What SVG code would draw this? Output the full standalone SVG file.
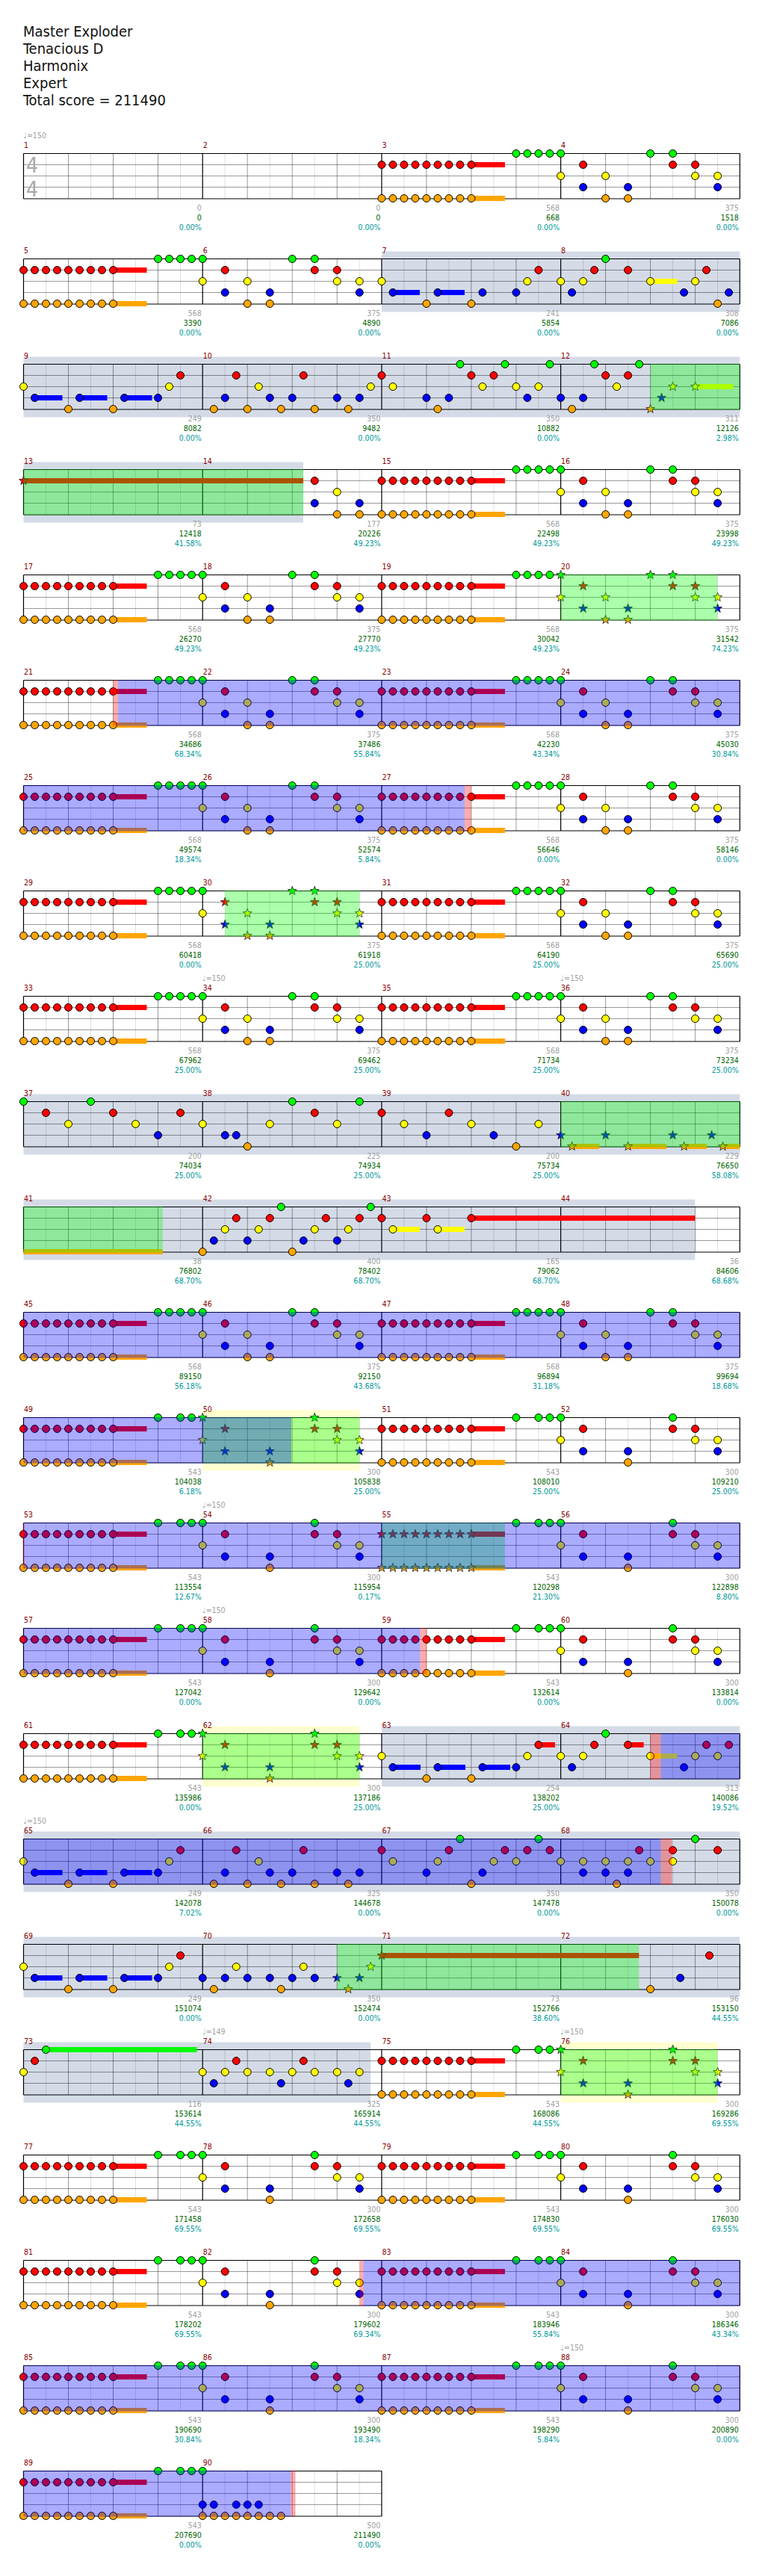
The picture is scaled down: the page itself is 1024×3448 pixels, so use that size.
<svg xmlns="http://www.w3.org/2000/svg" xmlns:xlink="http://www.w3.org/1999/xlink" width="1024" height="3448" viewBox="0 0 1024 3448">
<style>
text{font-family:'DejaVu Sans Condensed','DejaVu Sans',sans-serif;font-stretch:condensed}
.ti{font-size:20px;fill:#111}
.mn{font-size:10.5px;fill:#8b0000}
.tp{font-size:10.5px;fill:#a0a0a0}
.ts{font-size:28px;fill:#aaa}
.l1,.l2,.l3{font-size:10.5px;text-anchor:end}
.l1{fill:#a0a0a0}.l2{fill:#006400}.l3{fill:#009999}
.bg{fill:#d4dbe7}.py{fill:#ffffd0}
.ovg{fill:#00ff00;fill-opacity:.33}
.ovb{fill:#0000ff;fill-opacity:.33}
.ovp{fill:#ff0000;fill-opacity:.33}
</style>
<defs>
<circle id="g" r="5" fill="#00ff00" stroke="#000"/>
<circle id="r" cy="15" r="5" fill="#ff0000" stroke="#000"/>
<circle id="y" cy="30" r="5" fill="#ffff00" stroke="#000"/>
<circle id="b" cy="45" r="5" fill="#0000ff" stroke="#000"/>
<circle id="o" cy="60" r="5" fill="#ffa500" stroke="#000"/>
<polygon id="st" points="0,-6.3 1.53,-2.1 5.99,-1.95 2.47,0.8 3.7,5.1 0,2.6 -3.7,5.1 -2.47,0.8 -5.99,-1.95 -1.53,-2.1" stroke="#222" stroke-width=".8"/>
<use id="sg" href="#st" fill="#00ff00"/>
<use id="sr" href="#st" y="15" fill="#ff0000"/>
<use id="sy" href="#st" y="30" fill="#ffff00"/>
<use id="sb" href="#st" y="45" fill="#0000ff"/>
<use id="so" href="#st" y="60" fill="#ffa500"/>
<g id="grid"><path d="M30 0V60.5M90 0V60.5M150 0V60.5M210 0V60.5" stroke="#000" stroke-opacity=".13"/><path d="M60 0V60.5M120 0V60.5M180 0V60.5M0 15H239.7M0 30H239.7M0 45H239.7" stroke="#000" stroke-opacity=".4"/></g>
<g id="staff"><use href="#grid" x="31.5"/><use href="#grid" x="271.2"/><use href="#grid" x="510.9"/><use href="#grid" x="750.6"/><path d="M31.5 0V60.5M271.2 0V60.5M510.9 0V60.5M750.6 0V60.5M990.3 0V60.5M31.5 0H990.3M31.5 60.5H990.3" stroke="#000" stroke-width="1.2" fill="none"/></g>
<g id="staff2"><use href="#grid" x="31.5"/><use href="#grid" x="271.2"/><path d="M31.5 0V60.5M271.2 0V60.5M510.9 0V60.5M31.5 0H510.9M31.5 60.5H510.9" stroke="#000" stroke-width="1.2" fill="none"/></g>
<g id="ro"><use href="#r"/><use href="#o"/></g>
<g id="sro"><use href="#sr"/><use href="#so"/></g>
<g id="A0"><rect x="120" y="11.5" width="45" height="7" fill="#ff0000"/><rect x="120" y="56.5" width="45" height="7" fill="#ffa500"/><use href="#ro"/><use href="#ro" x="15"/><use href="#ro" x="30"/><use href="#ro" x="45"/><use href="#ro" x="60"/><use href="#ro" x="75"/><use href="#ro" x="90"/><use href="#ro" x="105"/><use href="#ro" x="120"/></g>
<g id="A1"><use href="#A0"/><use href="#g" x="180"/><use href="#g" x="195"/><use href="#g" x="210"/><use href="#g" x="225"/></g>
<g id="A2"><use href="#A0"/><use href="#g" x="180"/><use href="#g" x="210"/><use href="#g" x="225"/></g>
<g id="B"><use href="#g"/><use href="#y"/><use href="#r" x="30"/><use href="#b" x="30"/><use href="#y" x="60"/><use href="#o" x="60"/><use href="#b" x="90"/><use href="#o" x="90"/><use href="#g" x="120"/><use href="#g" x="150"/><use href="#r" x="150"/><use href="#r" x="180"/><use href="#y" x="180"/><use href="#y" x="210"/><use href="#b" x="210"/></g>
<g id="B2"><use href="#g"/><use href="#y"/><use href="#r" x="30"/><use href="#b" x="30"/><use href="#b" x="90"/><use href="#o" x="90"/><use href="#g" x="150"/><use href="#r" x="150"/><use href="#r" x="180"/><use href="#y" x="180"/><use href="#y" x="210"/><use href="#b" x="210"/></g>
<g id="SB"><use href="#sg"/><use href="#sy"/><use href="#sr" x="30"/><use href="#sb" x="30"/><use href="#sy" x="60"/><use href="#so" x="60"/><use href="#sb" x="90"/><use href="#so" x="90"/><use href="#sg" x="120"/><use href="#sg" x="150"/><use href="#sr" x="150"/><use href="#sr" x="180"/><use href="#sy" x="180"/><use href="#sy" x="210"/><use href="#sb" x="210"/></g>
<g id="SB2"><use href="#sg"/><use href="#sy"/><use href="#sr" x="30"/><use href="#sb" x="30"/><use href="#sb" x="90"/><use href="#so" x="90"/><use href="#sg" x="150"/><use href="#sr" x="150"/><use href="#sr" x="180"/><use href="#sy" x="180"/><use href="#sy" x="210"/><use href="#sb" x="210"/></g>
<g id="C"><rect x="15" y="41.5" width="37" height="7" fill="#0000ff"/><rect x="75" y="41.5" width="37" height="7" fill="#0000ff"/><rect x="135" y="41.5" width="37" height="7" fill="#0000ff"/><use href="#y"/><use href="#b" x="15"/><use href="#o" x="60"/><use href="#b" x="75"/><use href="#o" x="120"/><use href="#b" x="135"/><use href="#b" x="180"/><use href="#y" x="195"/><use href="#r" x="210"/></g>
</defs>
<rect width="1024" height="3448" fill="#fff"/>
<g id="title">
<text class="ti" x="31" y="49">Master Exploder</text>
<text class="ti" x="31" y="72">Tenacious D</text>
<text class="ti" x="31" y="95">Harmonix</text>
<text class="ti" x="31" y="118">Expert</text>
<text class="ti" x="31" y="141">Total score = 211490</text>
</g>

<g id="row1" transform="translate(0,205.5)">
<use href="#staff"/>
<text class="tp" x="31.5" y="-20.5">♩=150</text>
<text class="ts" x="35" y="25.2">4</text>
<text class="ts" x="35" y="57.9">4</text>
<g id="m1" transform="translate(31.5,0)"><text class="mn" x="0.5" y="-7.5">1</text><text class="l1" x="238.2" y="76">0</text><text class="l2" x="238.2" y="89">0</text><text class="l3" x="238.2" y="102">0.00%</text></g>
<g id="m2" transform="translate(271.2,0)"><text class="mn" x="0.5" y="-7.5">2</text><text class="l1" x="238.2" y="76">0</text><text class="l2" x="238.2" y="89">0</text><text class="l3" x="238.2" y="102">0.00%</text></g>
<g id="m3" transform="translate(510.9,0)"><text class="mn" x="0.5" y="-7.5">3</text><use href="#A1"/><text class="l1" x="238.2" y="76">568</text><text class="l2" x="238.2" y="89">668</text><text class="l3" x="238.2" y="102">0.00%</text></g>
<g id="m4" transform="translate(750.6,0)"><text class="mn" x="0.5" y="-7.5">4</text><use href="#B"/><text class="l1" x="238.2" y="76">375</text><text class="l2" x="238.2" y="89">1518</text><text class="l3" x="238.2" y="102">0.00%</text></g>
</g>

<g id="row2" transform="translate(0,346.5)">
<rect class="bg" x="510.9" y="-10" width="479.4" height="81"/>
<use href="#staff"/>
<g id="m5" transform="translate(31.5,0)"><text class="mn" x="0.5" y="-7.5">5</text><use href="#A1"/><text class="l1" x="238.2" y="76">568</text><text class="l2" x="238.2" y="89">3390</text><text class="l3" x="238.2" y="102">0.00%</text></g>
<g id="m6" transform="translate(271.2,0)"><text class="mn" x="0.5" y="-7.5">6</text><use href="#B"/><text class="l1" x="238.2" y="76">375</text><text class="l2" x="238.2" y="89">4890</text><text class="l3" x="238.2" y="102">0.00%</text></g>
<g id="m7" transform="translate(510.9,0)"><text class="mn" x="0.5" y="-7.5">7</text><rect x="15" y="41.5" width="36" height="7" fill="#0000ff"/><rect x="75" y="41.5" width="36" height="7" fill="#0000ff"/><use href="#y"/><use href="#b" x="15"/><use href="#o" x="60"/><use href="#b" x="75"/><use href="#o" x="120"/><use href="#b" x="135"/><use href="#b" x="180"/><use href="#y" x="195"/><use href="#r" x="210"/><text class="l1" x="238.2" y="76">241</text><text class="l2" x="238.2" y="89">5854</text><text class="l3" x="238.2" y="102">0.00%</text></g>
<g id="m8" transform="translate(750.6,0)"><text class="mn" x="0.5" y="-7.5">8</text><rect x="120" y="26.5" width="36" height="7" fill="#ffff00"/><use href="#y"/><use href="#b" x="15"/><use href="#y" x="30"/><use href="#r" x="45"/><use href="#g" x="60"/><use href="#r" x="90"/><use href="#y" x="120"/><use href="#b" x="165"/><use href="#y" x="180"/><use href="#r" x="195"/><use href="#o" x="210"/><use href="#b" x="225"/><text class="l1" x="238.2" y="76">308</text><text class="l2" x="238.2" y="89">7086</text><text class="l3" x="238.2" y="102">0.00%</text></g>
</g>

<g id="row3" transform="translate(0,487.5)">
<rect class="bg" x="31.5" y="-10" width="958.8" height="81"/>
<use href="#staff"/>
<g id="m9" transform="translate(31.5,0)"><text class="mn" x="0.5" y="-7.5">9</text><use href="#C"/><text class="l1" x="238.2" y="76">249</text><text class="l2" x="238.2" y="89">8082</text><text class="l3" x="238.2" y="102">0.00%</text></g>
<g id="m10" transform="translate(271.2,0)"><text class="mn" x="0.5" y="-7.5">10</text><use href="#o" x="15"/><use href="#b" x="30"/><use href="#r" x="45"/><use href="#o" x="60"/><use href="#y" x="75"/><use href="#b" x="90"/><use href="#o" x="105"/><use href="#b" x="120"/><use href="#r" x="135"/><use href="#o" x="150"/><use href="#b" x="180"/><use href="#o" x="195"/><use href="#b" x="210"/><use href="#y" x="225"/><text class="l1" x="238.2" y="76">350</text><text class="l2" x="238.2" y="89">9482</text><text class="l3" x="238.2" y="102">0.00%</text></g>
<g id="m11" transform="translate(510.9,0)"><text class="mn" x="0.5" y="-7.5">11</text><use href="#r"/><use href="#y" x="15"/><use href="#b" x="60"/><use href="#o" x="75"/><use href="#b" x="90"/><use href="#g" x="105"/><use href="#r" x="120"/><use href="#y" x="135"/><use href="#r" x="150"/><use href="#g" x="165"/><use href="#y" x="180"/><use href="#b" x="195"/><use href="#y" x="210"/><use href="#g" x="225"/><text class="l1" x="238.2" y="76">350</text><text class="l2" x="238.2" y="89">10882</text><text class="l3" x="238.2" y="102">0.00%</text></g>
<g id="m12" transform="translate(750.6,0)"><text class="mn" x="0.5" y="-7.5">12</text><use href="#b"/><use href="#o" x="15"/><use href="#b" x="30"/><use href="#g" x="45"/><use href="#r" x="60"/><use href="#y" x="75"/><use href="#r" x="90"/><use href="#g" x="105"/><use href="#so" x="120"/><use href="#sb" x="135"/><use href="#sy" x="150"/><rect x="180" y="26.5" width="51" height="7" fill="#ffff00"/><use href="#sy" x="180"/><text class="l1" x="238.2" y="76">311</text><text class="l2" x="238.2" y="89">12126</text><text class="l3" x="238.2" y="102">2.98%</text></g>
<rect class="ovg" x="870.6" y="-0.5" width="119.7" height="61.5"/>
</g>

<g id="row4" transform="translate(0,628.5)">
<rect class="bg" x="31.5" y="-10" width="374.5" height="81"/>
<use href="#staff"/>
<g id="m13" transform="translate(31.5,0)"><text class="mn" x="0.5" y="-7.5">13</text><rect x="0" y="11.5" width="374.5" height="7" fill="#ff0000"/><use href="#sr"/><text class="l1" x="238.2" y="76">73</text><text class="l2" x="238.2" y="89">12418</text><text class="l3" x="238.2" y="102">41.58%</text></g>
<g id="m14" transform="translate(271.2,0)"><text class="mn" x="0.5" y="-7.5">14</text><use href="#r" x="150"/><use href="#b" x="150"/><use href="#y" x="180"/><use href="#o" x="180"/><use href="#b" x="210"/><use href="#o" x="210"/><text class="l1" x="238.2" y="76">177</text><text class="l2" x="238.2" y="89">20226</text><text class="l3" x="238.2" y="102">49.23%</text></g>
<g id="m15" transform="translate(510.9,0)"><text class="mn" x="0.5" y="-7.5">15</text><use href="#A1"/><text class="l1" x="238.2" y="76">568</text><text class="l2" x="238.2" y="89">22498</text><text class="l3" x="238.2" y="102">49.23%</text></g>
<g id="m16" transform="translate(750.6,0)"><text class="mn" x="0.5" y="-7.5">16</text><use href="#B"/><text class="l1" x="238.2" y="76">375</text><text class="l2" x="238.2" y="89">23998</text><text class="l3" x="238.2" y="102">49.23%</text></g>
<rect class="ovg" x="31.5" y="-0.5" width="374.5" height="61.5"/>
</g>

<g id="row5" transform="translate(0,769.5)">
<use href="#staff"/>
<g id="m17" transform="translate(31.5,0)"><text class="mn" x="0.5" y="-7.5">17</text><use href="#A1"/><text class="l1" x="238.2" y="76">568</text><text class="l2" x="238.2" y="89">26270</text><text class="l3" x="238.2" y="102">49.23%</text></g>
<g id="m18" transform="translate(271.2,0)"><text class="mn" x="0.5" y="-7.5">18</text><use href="#B"/><text class="l1" x="238.2" y="76">375</text><text class="l2" x="238.2" y="89">27770</text><text class="l3" x="238.2" y="102">49.23%</text></g>
<g id="m19" transform="translate(510.9,0)"><text class="mn" x="0.5" y="-7.5">19</text><use href="#A1"/><text class="l1" x="238.2" y="76">568</text><text class="l2" x="238.2" y="89">30042</text><text class="l3" x="238.2" y="102">49.23%</text></g>
<g id="m20" transform="translate(750.6,0)"><text class="mn" x="0.5" y="-7.5">20</text><use href="#SB"/><text class="l1" x="238.2" y="76">375</text><text class="l2" x="238.2" y="89">31542</text><text class="l3" x="238.2" y="102">74.23%</text></g>
<rect class="ovg" x="750.6" y="-0.5" width="210" height="61.5"/>
</g>

<g id="row6" transform="translate(0,910.5)">
<use href="#staff"/>
<g id="m21" transform="translate(31.5,0)"><text class="mn" x="0.5" y="-7.5">21</text><use href="#A1"/><text class="l1" x="238.2" y="76">568</text><text class="l2" x="238.2" y="89">34686</text><text class="l3" x="238.2" y="102">68.34%</text></g>
<g id="m22" transform="translate(271.2,0)"><text class="mn" x="0.5" y="-7.5">22</text><use href="#B"/><text class="l1" x="238.2" y="76">375</text><text class="l2" x="238.2" y="89">37486</text><text class="l3" x="238.2" y="102">55.84%</text></g>
<g id="m23" transform="translate(510.9,0)"><text class="mn" x="0.5" y="-7.5">23</text><use href="#A1"/><text class="l1" x="238.2" y="76">568</text><text class="l2" x="238.2" y="89">42230</text><text class="l3" x="238.2" y="102">43.34%</text></g>
<g id="m24" transform="translate(750.6,0)"><text class="mn" x="0.5" y="-7.5">24</text><use href="#B"/><text class="l1" x="238.2" y="76">375</text><text class="l2" x="238.2" y="89">45030</text><text class="l3" x="238.2" y="102">30.84%</text></g>
<rect class="ovp" x="151.5" y="-0.5" width="6.5" height="61.5"/>
<rect class="ovb" x="158" y="-0.5" width="832.3" height="61.5"/>
</g>

<g id="row7" transform="translate(0,1051.5)">
<use href="#staff"/>
<g id="m25" transform="translate(31.5,0)"><text class="mn" x="0.5" y="-7.5">25</text><use href="#A1"/><text class="l1" x="238.2" y="76">568</text><text class="l2" x="238.2" y="89">49574</text><text class="l3" x="238.2" y="102">18.34%</text></g>
<g id="m26" transform="translate(271.2,0)"><text class="mn" x="0.5" y="-7.5">26</text><use href="#B"/><text class="l1" x="238.2" y="76">375</text><text class="l2" x="238.2" y="89">52574</text><text class="l3" x="238.2" y="102">5.84%</text></g>
<g id="m27" transform="translate(510.9,0)"><text class="mn" x="0.5" y="-7.5">27</text><use href="#A1"/><text class="l1" x="238.2" y="76">568</text><text class="l2" x="238.2" y="89">56646</text><text class="l3" x="238.2" y="102">0.00%</text></g>
<g id="m28" transform="translate(750.6,0)"><text class="mn" x="0.5" y="-7.5">28</text><use href="#B"/><text class="l1" x="238.2" y="76">375</text><text class="l2" x="238.2" y="89">58146</text><text class="l3" x="238.2" y="102">0.00%</text></g>
<rect class="ovb" x="31.5" y="-0.5" width="590.6" height="61.5"/>
<rect class="ovp" x="622.1" y="-0.5" width="8.5" height="61.5"/>
</g>

<g id="row8" transform="translate(0,1192.5)">
<use href="#staff"/>
<g id="m29" transform="translate(31.5,0)"><text class="mn" x="0.5" y="-7.5">29</text><use href="#A1"/><text class="l1" x="238.2" y="76">568</text><text class="l2" x="238.2" y="89">60418</text><text class="l3" x="238.2" y="102">0.00%</text></g>
<g id="m30" transform="translate(271.2,0)"><text class="mn" x="0.5" y="-7.5">30</text><use href="#g"/><use href="#y"/><use href="#sr" x="30"/><use href="#sb" x="30"/><use href="#sy" x="60"/><use href="#so" x="60"/><use href="#sb" x="90"/><use href="#so" x="90"/><use href="#sg" x="120"/><use href="#sg" x="150"/><use href="#sr" x="150"/><use href="#sr" x="180"/><use href="#sy" x="180"/><use href="#sy" x="210"/><use href="#sb" x="210"/><text class="l1" x="238.2" y="76">375</text><text class="l2" x="238.2" y="89">61918</text><text class="l3" x="238.2" y="102">25.00%</text></g>
<g id="m31" transform="translate(510.9,0)"><text class="mn" x="0.5" y="-7.5">31</text><use href="#A1"/><text class="l1" x="238.2" y="76">568</text><text class="l2" x="238.2" y="89">64190</text><text class="l3" x="238.2" y="102">25.00%</text></g>
<g id="m32" transform="translate(750.6,0)"><text class="mn" x="0.5" y="-7.5">32</text><use href="#B"/><text class="l1" x="238.2" y="76">375</text><text class="l2" x="238.2" y="89">65690</text><text class="l3" x="238.2" y="102">25.00%</text></g>
<rect class="ovg" x="301.2" y="-0.5" width="180" height="61.5"/>
</g>

<g id="row9" transform="translate(0,1333.5)">
<use href="#staff"/>
<text class="tp" x="271.2" y="-20.5">♩=150</text>
<text class="tp" x="750.6" y="-20.5">♩=150</text>
<g id="m33" transform="translate(31.5,0)"><text class="mn" x="0.5" y="-7.5">33</text><use href="#A1"/><text class="l1" x="238.2" y="76">568</text><text class="l2" x="238.2" y="89">67962</text><text class="l3" x="238.2" y="102">25.00%</text></g>
<g id="m34" transform="translate(271.2,0)"><text class="mn" x="0.5" y="-7.5">34</text><use href="#B"/><text class="l1" x="238.2" y="76">375</text><text class="l2" x="238.2" y="89">69462</text><text class="l3" x="238.2" y="102">25.00%</text></g>
<g id="m35" transform="translate(510.9,0)"><text class="mn" x="0.5" y="-7.5">35</text><use href="#A1"/><text class="l1" x="238.2" y="76">568</text><text class="l2" x="238.2" y="89">71734</text><text class="l3" x="238.2" y="102">25.00%</text></g>
<g id="m36" transform="translate(750.6,0)"><text class="mn" x="0.5" y="-7.5">36</text><use href="#B"/><text class="l1" x="238.2" y="76">375</text><text class="l2" x="238.2" y="89">73234</text><text class="l3" x="238.2" y="102">25.00%</text></g>
</g>

<g id="row10" transform="translate(0,1474.5)">
<rect class="bg" x="31.5" y="-10" width="958.8" height="81"/>
<use href="#staff"/>
<g id="m37" transform="translate(31.5,0)"><text class="mn" x="0.5" y="-7.5">37</text><use href="#g"/><use href="#r" x="30"/><use href="#y" x="60"/><use href="#g" x="90"/><use href="#r" x="120"/><use href="#y" x="150"/><use href="#b" x="180"/><use href="#r" x="210"/><text class="l1" x="238.2" y="76">200</text><text class="l2" x="238.2" y="89">74034</text><text class="l3" x="238.2" y="102">25.00%</text></g>
<g id="m38" transform="translate(271.2,0)"><text class="mn" x="0.5" y="-7.5">38</text><use href="#y"/><use href="#b" x="30"/><use href="#b" x="45"/><use href="#o" x="60"/><use href="#y" x="90"/><use href="#g" x="120"/><use href="#r" x="150"/><use href="#y" x="180"/><use href="#g" x="210"/><text class="l1" x="238.2" y="76">225</text><text class="l2" x="238.2" y="89">74934</text><text class="l3" x="238.2" y="102">25.00%</text></g>
<g id="m39" transform="translate(510.9,0)"><text class="mn" x="0.5" y="-7.5">39</text><use href="#r"/><use href="#y" x="30"/><use href="#b" x="60"/><use href="#r" x="90"/><use href="#y" x="120"/><use href="#b" x="150"/><use href="#o" x="180"/><use href="#y" x="210"/><text class="l1" x="238.2" y="76">200</text><text class="l2" x="238.2" y="89">75734</text><text class="l3" x="238.2" y="102">25.00%</text></g>
<g id="m40" transform="translate(750.6,0)"><text class="mn" x="0.5" y="-7.5">40</text><rect x="15" y="56.5" width="36.5" height="7" fill="#ffa500"/><rect x="90" y="56.5" width="51.5" height="7" fill="#ffa500"/><rect x="165" y="56.5" width="30.6" height="7" fill="#ffa500"/><rect x="217" y="56.5" width="22.7" height="7" fill="#ffa500"/><use href="#sb"/><use href="#so" x="15"/><use href="#sb" x="60"/><use href="#so" x="90"/><use href="#sb" x="150"/><use href="#so" x="165"/><use href="#sb" x="202"/><use href="#so" x="217"/><text class="l1" x="238.2" y="76">229</text><text class="l2" x="238.2" y="89">76650</text><text class="l3" x="238.2" y="102">58.08%</text></g>
<rect class="ovg" x="750.6" y="-0.5" width="239.7" height="61.5"/>
</g>

<g id="row11" transform="translate(0,1615.5)">
<rect class="bg" x="31.5" y="-10" width="898.8" height="81"/>
<use href="#staff"/>
<rect x="31.5" y="56.5" width="186.2" height="7" fill="#ffa500"/>
<g id="m41" transform="translate(31.5,0)"><text class="mn" x="0.5" y="-7.5">41</text><text class="l1" x="238.2" y="76">38</text><text class="l2" x="238.2" y="89">76802</text><text class="l3" x="238.2" y="102">68.70%</text></g>
<g id="m42" transform="translate(271.2,0)"><text class="mn" x="0.5" y="-7.5">42</text><use href="#o"/><use href="#b" x="15"/><use href="#y" x="30"/><use href="#r" x="45"/><use href="#b" x="60"/><use href="#y" x="75"/><use href="#r" x="90"/><use href="#g" x="105"/><use href="#o" x="120"/><use href="#b" x="135"/><use href="#y" x="150"/><use href="#r" x="165"/><use href="#b" x="180"/><use href="#y" x="195"/><use href="#r" x="210"/><use href="#g" x="225"/><text class="l1" x="238.2" y="76">400</text><text class="l2" x="238.2" y="89">78402</text><text class="l3" x="238.2" y="102">68.70%</text></g>
<g id="m43" transform="translate(510.9,0)"><text class="mn" x="0.5" y="-7.5">43</text><rect x="15" y="26.5" width="36" height="7" fill="#ffff00"/><rect x="75" y="26.5" width="36" height="7" fill="#ffff00"/><rect x="120" y="11.5" width="299.4" height="7" fill="#ff0000"/><use href="#r"/><use href="#y" x="15"/><use href="#r" x="60"/><use href="#y" x="75"/><use href="#r" x="120"/><text class="l1" x="238.2" y="76">165</text><text class="l2" x="238.2" y="89">79062</text><text class="l3" x="238.2" y="102">68.70%</text></g>
<g id="m44" transform="translate(750.6,0)"><text class="mn" x="0.5" y="-7.5">44</text><text class="l1" x="238.2" y="76">36</text><text class="l2" x="238.2" y="89">84606</text><text class="l3" x="238.2" y="102">68.68%</text></g>
<rect class="ovg" x="31.5" y="-0.5" width="186.2" height="61.5"/>
</g>

<g id="row12" transform="translate(0,1756.5)">
<use href="#staff"/>
<g id="m45" transform="translate(31.5,0)"><text class="mn" x="0.5" y="-7.5">45</text><use href="#A1"/><text class="l1" x="238.2" y="76">568</text><text class="l2" x="238.2" y="89">89150</text><text class="l3" x="238.2" y="102">56.18%</text></g>
<g id="m46" transform="translate(271.2,0)"><text class="mn" x="0.5" y="-7.5">46</text><use href="#B"/><text class="l1" x="238.2" y="76">375</text><text class="l2" x="238.2" y="89">92150</text><text class="l3" x="238.2" y="102">43.68%</text></g>
<g id="m47" transform="translate(510.9,0)"><text class="mn" x="0.5" y="-7.5">47</text><use href="#A1"/><text class="l1" x="238.2" y="76">568</text><text class="l2" x="238.2" y="89">96894</text><text class="l3" x="238.2" y="102">31.18%</text></g>
<g id="m48" transform="translate(750.6,0)"><text class="mn" x="0.5" y="-7.5">48</text><use href="#B"/><text class="l1" x="238.2" y="76">375</text><text class="l2" x="238.2" y="89">99694</text><text class="l3" x="238.2" y="102">18.68%</text></g>
<rect class="ovb" x="31.5" y="-0.5" width="958.8" height="61.5"/>
</g>

<g id="row13" transform="translate(0,1897.5)">
<rect class="py" x="271.2" y="-10" width="210" height="81"/>
<use href="#staff"/>
<g id="m49" transform="translate(31.5,0)"><text class="mn" x="0.5" y="-7.5">49</text><use href="#A2"/><text class="l1" x="238.2" y="76">543</text><text class="l2" x="238.2" y="89">104038</text><text class="l3" x="238.2" y="102">6.18%</text></g>
<g id="m50" transform="translate(271.2,0)"><text class="mn" x="0.5" y="-7.5">50</text><use href="#SB2"/><text class="l1" x="238.2" y="76">300</text><text class="l2" x="238.2" y="89">105838</text><text class="l3" x="238.2" y="102">25.00%</text></g>
<g id="m51" transform="translate(510.9,0)"><text class="mn" x="0.5" y="-7.5">51</text><use href="#A2"/><text class="l1" x="238.2" y="76">543</text><text class="l2" x="238.2" y="89">108010</text><text class="l3" x="238.2" y="102">25.00%</text></g>
<g id="m52" transform="translate(750.6,0)"><text class="mn" x="0.5" y="-7.5">52</text><use href="#B2"/><text class="l1" x="238.2" y="76">300</text><text class="l2" x="238.2" y="89">109210</text><text class="l3" x="238.2" y="102">25.00%</text></g>
<rect class="ovg" x="271.2" y="-0.5" width="210" height="61.5"/>
<rect class="ovb" x="31.5" y="-0.5" width="358.5" height="61.5"/>
</g>

<g id="row14" transform="translate(0,2038.5)">
<use href="#staff"/>
<text class="tp" x="271.2" y="-20.5">♩=150</text>
<g id="m53" transform="translate(31.5,0)"><text class="mn" x="0.5" y="-7.5">53</text><use href="#A2"/><text class="l1" x="238.2" y="76">543</text><text class="l2" x="238.2" y="89">113554</text><text class="l3" x="238.2" y="102">12.67%</text></g>
<g id="m54" transform="translate(271.2,0)"><text class="mn" x="0.5" y="-7.5">54</text><use href="#B2"/><text class="l1" x="238.2" y="76">300</text><text class="l2" x="238.2" y="89">115954</text><text class="l3" x="238.2" y="102">0.17%</text></g>
<g id="m55" transform="translate(510.9,0)"><text class="mn" x="0.5" y="-7.5">55</text><rect x="120" y="11.5" width="45" height="7" fill="#ff0000"/><rect x="120" y="56.5" width="45" height="7" fill="#ffa500"/><use href="#sro"/><use href="#sro" x="15"/><use href="#sro" x="30"/><use href="#sro" x="45"/><use href="#sro" x="60"/><use href="#sro" x="75"/><use href="#sro" x="90"/><use href="#sro" x="105"/><use href="#sro" x="120"/><use href="#g" x="180"/><use href="#g" x="210"/><use href="#g" x="225"/><text class="l1" x="238.2" y="76">543</text><text class="l2" x="238.2" y="89">120298</text><text class="l3" x="238.2" y="102">21.30%</text></g>
<g id="m56" transform="translate(750.6,0)"><text class="mn" x="0.5" y="-7.5">56</text><use href="#B2"/><text class="l1" x="238.2" y="76">300</text><text class="l2" x="238.2" y="89">122898</text><text class="l3" x="238.2" y="102">8.80%</text></g>
<rect class="ovg" x="510.9" y="-0.5" width="165" height="61.5"/>
<rect class="ovb" x="31.5" y="-0.5" width="958.8" height="61.5"/>
<rect class="ovp" x="30.8" y="-0.5" width="1.5" height="61.5"/>
</g>

<g id="row15" transform="translate(0,2179.5)">
<use href="#staff"/>
<text class="tp" x="271.2" y="-20.5">♩=150</text>
<g id="m57" transform="translate(31.5,0)"><text class="mn" x="0.5" y="-7.5">57</text><use href="#A2"/><text class="l1" x="238.2" y="76">543</text><text class="l2" x="238.2" y="89">127042</text><text class="l3" x="238.2" y="102">0.00%</text></g>
<g id="m58" transform="translate(271.2,0)"><text class="mn" x="0.5" y="-7.5">58</text><use href="#B2"/><text class="l1" x="238.2" y="76">300</text><text class="l2" x="238.2" y="89">129642</text><text class="l3" x="238.2" y="102">0.00%</text></g>
<g id="m59" transform="translate(510.9,0)"><text class="mn" x="0.5" y="-7.5">59</text><use href="#A2"/><text class="l1" x="238.2" y="76">543</text><text class="l2" x="238.2" y="89">132614</text><text class="l3" x="238.2" y="102">0.00%</text></g>
<g id="m60" transform="translate(750.6,0)"><text class="mn" x="0.5" y="-7.5">60</text><use href="#B2"/><text class="l1" x="238.2" y="76">300</text><text class="l2" x="238.2" y="89">133814</text><text class="l3" x="238.2" y="102">0.00%</text></g>
<rect class="ovb" x="31.5" y="-0.5" width="531.1" height="61.5"/>
<rect class="ovp" x="562.6" y="-0.5" width="8.5" height="61.5"/>
</g>

<g id="row16" transform="translate(0,2320.5)">
<rect class="py" x="271.2" y="-10" width="210" height="81"/>
<rect class="bg" x="510.9" y="-10" width="479.4" height="81"/>
<use href="#staff"/>
<g id="m61" transform="translate(31.5,0)"><text class="mn" x="0.5" y="-7.5">61</text><use href="#A2"/><text class="l1" x="238.2" y="76">543</text><text class="l2" x="238.2" y="89">135986</text><text class="l3" x="238.2" y="102">0.00%</text></g>
<g id="m62" transform="translate(271.2,0)"><text class="mn" x="0.5" y="-7.5">62</text><use href="#SB2"/><text class="l1" x="238.2" y="76">300</text><text class="l2" x="238.2" y="89">137186</text><text class="l3" x="238.2" y="102">25.00%</text></g>
<g id="m63" transform="translate(510.9,0)"><text class="mn" x="0.5" y="-7.5">63</text><rect x="210" y="11.5" width="22" height="7" fill="#ff0000"/><use href="#C"/><text class="l1" x="238.2" y="76">254</text><text class="l2" x="238.2" y="89">138202</text><text class="l3" x="238.2" y="102">25.00%</text></g>
<g id="m64" transform="translate(750.6,0)"><text class="mn" x="0.5" y="-7.5">64</text><rect x="90" y="11.5" width="21" height="7" fill="#ff0000"/><rect x="120" y="26.5" width="36" height="7" fill="#ffff00"/><use href="#y"/><use href="#b" x="15"/><use href="#y" x="30"/><use href="#r" x="45"/><use href="#g" x="60"/><use href="#r" x="90"/><use href="#y" x="120"/><use href="#b" x="165"/><use href="#y" x="180"/><use href="#r" x="195"/><use href="#y" x="210"/><use href="#r" x="225"/><text class="l1" x="238.2" y="76">313</text><text class="l2" x="238.2" y="89">140086</text><text class="l3" x="238.2" y="102">19.52%</text></g>
<rect class="ovg" x="271.2" y="-0.5" width="210" height="61.5"/>
<rect class="ovp" x="870.3" y="-0.5" width="14.3" height="61.5"/>
<rect class="ovb" x="884.6" y="-0.5" width="105.7" height="61.5"/>
</g>

<g id="row17" transform="translate(0,2461.5)">
<rect class="bg" x="31.5" y="-10" width="958.8" height="81"/>
<use href="#staff"/>
<text class="tp" x="31.5" y="-20.5">♩=150</text>
<g id="m65" transform="translate(31.5,0)"><text class="mn" x="0.5" y="-7.5">65</text><use href="#C"/><text class="l1" x="238.2" y="76">249</text><text class="l2" x="238.2" y="89">142078</text><text class="l3" x="238.2" y="102">7.02%</text></g>
<g id="m66" transform="translate(271.2,0)"><text class="mn" x="0.5" y="-7.5">66</text><use href="#o" x="15"/><use href="#b" x="30"/><use href="#r" x="45"/><use href="#o" x="60"/><use href="#y" x="75"/><use href="#b" x="90"/><use href="#o" x="105"/><use href="#b" x="120"/><use href="#r" x="135"/><use href="#o" x="150"/><use href="#b" x="180"/><use href="#o" x="195"/><use href="#b" x="210"/><text class="l1" x="238.2" y="76">325</text><text class="l2" x="238.2" y="89">144678</text><text class="l3" x="238.2" y="102">0.00%</text></g>
<g id="m67" transform="translate(510.9,0)"><text class="mn" x="0.5" y="-7.5">67</text><use href="#r"/><use href="#y" x="15"/><use href="#b" x="60"/><use href="#y" x="75"/><use href="#r" x="90"/><use href="#g" x="105"/><use href="#o" x="120"/><use href="#b" x="135"/><use href="#y" x="150"/><use href="#r" x="165"/><use href="#y" x="180"/><use href="#r" x="195"/><use href="#g" x="210"/><use href="#r" x="225"/><text class="l1" x="238.2" y="76">350</text><text class="l2" x="238.2" y="89">147478</text><text class="l3" x="238.2" y="102">0.00%</text></g>
<g id="m68" transform="translate(750.6,0)"><text class="mn" x="0.5" y="-7.5">68</text><use href="#y"/><use href="#b" x="30"/><use href="#y" x="30"/><use href="#b" x="60"/><use href="#y" x="60"/><use href="#o" x="75"/><use href="#b" x="90"/><use href="#y" x="90"/><use href="#r" x="105"/><use href="#y" x="120"/><use href="#r" x="150"/><use href="#y" x="150"/><use href="#g" x="180"/><use href="#r" x="210"/><text class="l1" x="238.2" y="76">350</text><text class="l2" x="238.2" y="89">150078</text><text class="l3" x="238.2" y="102">0.00%</text></g>
<rect class="ovb" x="31.5" y="-0.5" width="853.1" height="61.5"/>
<rect class="ovp" x="884.6" y="-0.5" width="15" height="61.5"/>
</g>

<g id="row18" transform="translate(0,2602.5)">
<rect class="bg" x="31.5" y="-10" width="958.8" height="81"/>
<use href="#staff"/>
<g id="m69" transform="translate(31.5,0)"><text class="mn" x="0.5" y="-7.5">69</text><use href="#C"/><text class="l1" x="238.2" y="76">249</text><text class="l2" x="238.2" y="89">151074</text><text class="l3" x="238.2" y="102">0.00%</text></g>
<g id="m70" transform="translate(271.2,0)"><text class="mn" x="0.5" y="-7.5">70</text><use href="#b"/><use href="#o" x="15"/><use href="#b" x="30"/><use href="#y" x="45"/><use href="#b" x="60"/><use href="#b" x="90"/><use href="#o" x="105"/><use href="#b" x="120"/><use href="#y" x="135"/><use href="#b" x="150"/><use href="#sb" x="180"/><use href="#so" x="195"/><use href="#sb" x="210"/><use href="#sy" x="225"/><text class="l1" x="238.2" y="76">350</text><text class="l2" x="238.2" y="89">152474</text><text class="l3" x="238.2" y="102">0.00%</text></g>
<g id="m71" transform="translate(510.9,0)"><text class="mn" x="0.5" y="-7.5">71</text><rect x="0" y="11.5" width="344.4" height="7" fill="#ff0000"/><use href="#sr"/><text class="l1" x="238.2" y="76">73</text><text class="l2" x="238.2" y="89">152766</text><text class="l3" x="238.2" y="102">38.60%</text></g>
<g id="m72" transform="translate(750.6,0)"><text class="mn" x="0.5" y="-7.5">72</text><use href="#o" x="120"/><use href="#b" x="160"/><use href="#r" x="199"/><text class="l1" x="238.2" y="76">96</text><text class="l2" x="238.2" y="89">153150</text><text class="l3" x="238.2" y="102">44.55%</text></g>
<rect class="ovg" x="451.2" y="-0.5" width="404.1" height="61.5"/>
</g>

<g id="row19" transform="translate(0,2743.5)">
<rect class="bg" x="31.5" y="-10" width="464.6" height="81"/>
<rect class="py" x="750.6" y="-10" width="210" height="81"/>
<use href="#staff"/>
<text class="tp" x="271.2" y="-20.5">♩=149</text>
<text class="tp" x="750.6" y="-20.5">♩=150</text>
<g id="m73" transform="translate(31.5,0)"><text class="mn" x="0.5" y="-7.5">73</text><rect x="30" y="-3.5" width="202" height="7" fill="#00ff00"/><use href="#y"/><use href="#r" x="15"/><use href="#g" x="30"/><text class="l1" x="238.2" y="76">116</text><text class="l2" x="238.2" y="89">153614</text><text class="l3" x="238.2" y="102">44.55%</text></g>
<g id="m74" transform="translate(271.2,0)"><text class="mn" x="0.5" y="-7.5">74</text><use href="#y"/><use href="#b" x="15"/><use href="#y" x="30"/><use href="#r" x="45"/><use href="#y" x="60"/><use href="#y" x="90"/><use href="#b" x="105"/><use href="#y" x="120"/><use href="#r" x="135"/><use href="#y" x="150"/><use href="#y" x="180"/><use href="#b" x="195"/><use href="#y" x="210"/><text class="l1" x="238.2" y="76">325</text><text class="l2" x="238.2" y="89">165914</text><text class="l3" x="238.2" y="102">44.55%</text></g>
<g id="m75" transform="translate(510.9,0)"><text class="mn" x="0.5" y="-7.5">75</text><use href="#A2"/><text class="l1" x="238.2" y="76">543</text><text class="l2" x="238.2" y="89">168086</text><text class="l3" x="238.2" y="102">44.55%</text></g>
<g id="m76" transform="translate(750.6,0)"><text class="mn" x="0.5" y="-7.5">76</text><use href="#SB2"/><text class="l1" x="238.2" y="76">300</text><text class="l2" x="238.2" y="89">169286</text><text class="l3" x="238.2" y="102">69.55%</text></g>
<rect class="ovg" x="750.6" y="-0.5" width="210" height="61.5"/>
</g>

<g id="row20" transform="translate(0,2884.5)">
<use href="#staff"/>
<g id="m77" transform="translate(31.5,0)"><text class="mn" x="0.5" y="-7.5">77</text><use href="#A2"/><text class="l1" x="238.2" y="76">543</text><text class="l2" x="238.2" y="89">171458</text><text class="l3" x="238.2" y="102">69.55%</text></g>
<g id="m78" transform="translate(271.2,0)"><text class="mn" x="0.5" y="-7.5">78</text><use href="#B2"/><text class="l1" x="238.2" y="76">300</text><text class="l2" x="238.2" y="89">172658</text><text class="l3" x="238.2" y="102">69.55%</text></g>
<g id="m79" transform="translate(510.9,0)"><text class="mn" x="0.5" y="-7.5">79</text><use href="#A2"/><text class="l1" x="238.2" y="76">543</text><text class="l2" x="238.2" y="89">174830</text><text class="l3" x="238.2" y="102">69.55%</text></g>
<g id="m80" transform="translate(750.6,0)"><text class="mn" x="0.5" y="-7.5">80</text><use href="#B2"/><text class="l1" x="238.2" y="76">300</text><text class="l2" x="238.2" y="89">176030</text><text class="l3" x="238.2" y="102">69.55%</text></g>
</g>

<g id="row21" transform="translate(0,3025.5)">
<use href="#staff"/>
<g id="m81" transform="translate(31.5,0)"><text class="mn" x="0.5" y="-7.5">81</text><use href="#A2"/><text class="l1" x="238.2" y="76">543</text><text class="l2" x="238.2" y="89">178202</text><text class="l3" x="238.2" y="102">69.55%</text></g>
<g id="m82" transform="translate(271.2,0)"><text class="mn" x="0.5" y="-7.5">82</text><use href="#B2"/><text class="l1" x="238.2" y="76">300</text><text class="l2" x="238.2" y="89">179602</text><text class="l3" x="238.2" y="102">69.34%</text></g>
<g id="m83" transform="translate(510.9,0)"><text class="mn" x="0.5" y="-7.5">83</text><use href="#A2"/><text class="l1" x="238.2" y="76">543</text><text class="l2" x="238.2" y="89">183946</text><text class="l3" x="238.2" y="102">55.84%</text></g>
<g id="m84" transform="translate(750.6,0)"><text class="mn" x="0.5" y="-7.5">84</text><use href="#B2"/><text class="l1" x="238.2" y="76">300</text><text class="l2" x="238.2" y="89">186346</text><text class="l3" x="238.2" y="102">43.34%</text></g>
<rect class="ovp" x="481.2" y="-0.5" width="5.1" height="61.5"/>
<rect class="ovb" x="486.3" y="-0.5" width="504" height="61.5"/>
</g>

<g id="row22" transform="translate(0,3166.5)">
<use href="#staff"/>
<text class="tp" x="750.6" y="-20.5">♩=150</text>
<g id="m85" transform="translate(31.5,0)"><text class="mn" x="0.5" y="-7.5">85</text><use href="#A2"/><text class="l1" x="238.2" y="76">543</text><text class="l2" x="238.2" y="89">190690</text><text class="l3" x="238.2" y="102">30.84%</text></g>
<g id="m86" transform="translate(271.2,0)"><text class="mn" x="0.5" y="-7.5">86</text><use href="#B2"/><text class="l1" x="238.2" y="76">300</text><text class="l2" x="238.2" y="89">193490</text><text class="l3" x="238.2" y="102">18.34%</text></g>
<g id="m87" transform="translate(510.9,0)"><text class="mn" x="0.5" y="-7.5">87</text><use href="#A2"/><text class="l1" x="238.2" y="76">543</text><text class="l2" x="238.2" y="89">198290</text><text class="l3" x="238.2" y="102">5.84%</text></g>
<g id="m88" transform="translate(750.6,0)"><text class="mn" x="0.5" y="-7.5">88</text><use href="#B2"/><text class="l1" x="238.2" y="76">300</text><text class="l2" x="238.2" y="89">200890</text><text class="l3" x="238.2" y="102">0.00%</text></g>
<rect class="ovb" x="31.5" y="-0.5" width="958.8" height="61.5"/>
</g>

<g id="row23" transform="translate(0,3307.5)">
<use href="#staff2"/>
<g id="m89" transform="translate(31.5,0)"><text class="mn" x="0.5" y="-7.5">89</text><use href="#A2"/><text class="l1" x="238.2" y="76">543</text><text class="l2" x="238.2" y="89">207690</text><text class="l3" x="238.2" y="102">0.00%</text></g>
<g id="m90" transform="translate(271.2,0)"><text class="mn" x="0.5" y="-7.5">90</text><use href="#g"/><use href="#b"/><use href="#o"/><use href="#b" x="15"/><use href="#o" x="15"/><use href="#o" x="30"/><use href="#b" x="45"/><use href="#o" x="45"/><use href="#b" x="60"/><use href="#o" x="60"/><use href="#b" x="75"/><use href="#o" x="75"/><use href="#o" x="90"/><use href="#o" x="105"/><text class="l1" x="238.2" y="76">500</text><text class="l2" x="238.2" y="89">211490</text><text class="l3" x="238.2" y="102">0.00%</text></g>
<rect class="ovb" x="31.5" y="-0.5" width="358" height="61.5"/>
<rect class="ovp" x="389.5" y="-0.5" width="6" height="61.5"/>
</g>
</svg>
